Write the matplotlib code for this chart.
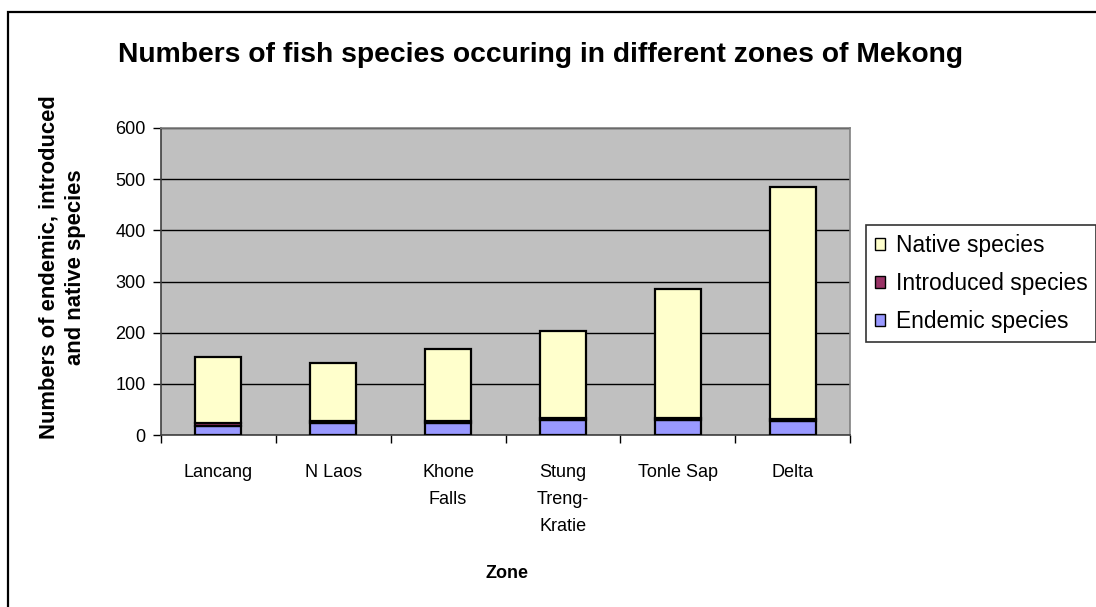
import matplotlib.pyplot as plt
from matplotlib.patches import Rectangle, Patch
import numpy as np

plt.rcParams['font.family'] = ['Liberation Sans', 'DejaVu Sans']

zones = ["Lancang", "N Laos", "Khone\nFalls", "Stung\nTreng-\nKratie", "Tonle Sap", "Delta"]
endemic = [17, 24, 24, 30, 30, 27]
introduced = [7, 3, 3, 4, 4, 4]
native = [129, 113, 141, 170, 251, 454]

c_native = "#FFFFCC"
c_intro = "#993366"
c_endemic = "#9999FF"

fig = plt.figure(figsize=(10.96, 6.07), dpi=100)
ax = fig.add_axes([161 / 1096, 1 - 435 / 607, 689 / 1096, 307 / 607])
ax.set_facecolor("#C0C0C0")

x = np.arange(len(zones))
w = 0.4
e = np.array(endemic)
i = np.array(introduced)
n = np.array(native)
ax.bar(x, e, w, color=c_endemic, edgecolor="black", linewidth=1.6, zorder=3)
ax.bar(x, i, w, bottom=e, color=c_intro, edgecolor="black", linewidth=1.6, zorder=3)
ax.bar(x, n, w, bottom=e + i, color=c_native, edgecolor="black", linewidth=1.6, zorder=3)

ax.set_xlim(-0.5, len(zones) - 0.5)
ax.set_ylim(0, 600)
ax.set_yticks(range(0, 601, 100))
ax.yaxis.grid(True, color="black", linewidth=1.0, zorder=1)
ax.set_axisbelow(True)

ax.set_xticks(x)
ax.set_xticklabels(zones, fontsize=13, linespacing=1.75, va="top")
ax.set_xticks(np.arange(-0.5, len(zones), 1), minor=True)
ax.tick_params(axis="x", which="major", length=0, pad=21)
ax.tick_params(axis="x", which="minor", length=6, width=1, direction="out")
ax.tick_params(axis="y", length=6, width=1, pad=5, labelsize=13)

for s in ["top", "right"]:
    ax.spines[s].set_color("#808080")
    ax.spines[s].set_linewidth(1.2)
for s in ["left", "bottom"]:
    ax.spines[s].set_color("#404040")
    ax.spines[s].set_linewidth(1.2)

fig.text(540 / 1096, 1 - 55 / 607, "Numbers of fish species occuring in different zones of Mekong",
         ha="center", va="center", fontsize=20.3, fontweight="bold")
fig.text(507 / 1096, 1 - 574 / 607, "Zone", ha="center", va="center", fontsize=13, fontweight="bold")
fig.text(62 / 1096, 1 - 267 / 607, "Numbers of endemic, introduced\nand native species",
         ha="center", va="center", rotation=90, fontsize=15.8, fontweight="bold", linespacing=1.32)

handles = [Patch(facecolor=c_native, edgecolor="black", linewidth=1),
           Patch(facecolor=c_intro, edgecolor="black", linewidth=1),
           Patch(facecolor=c_endemic, edgecolor="black", linewidth=1)]
leg = fig.legend(handles, ["Native species", "Introduced species", "Endemic species"],
                 loc="upper left", bbox_to_anchor=(866 / 1096, 1 - 225 / 607),
                 fontsize=16.4, frameon=True, fancybox=False, handlelength=0.45, handleheight=0.45,
                 handletextpad=0.45, labelspacing=0.66, borderpad=0.4, borderaxespad=0)
leg.get_frame().set_edgecolor("black")
leg.get_frame().set_linewidth(1.2)

fig.patches.append(Rectangle((8 / 1096, -0.05), 1.2, 1 - 12 / 607 + 0.05, transform=fig.transFigure,
                             fill=False, edgecolor="black", linewidth=1.6))

fig.savefig("out.png", dpi=100, facecolor="white")
